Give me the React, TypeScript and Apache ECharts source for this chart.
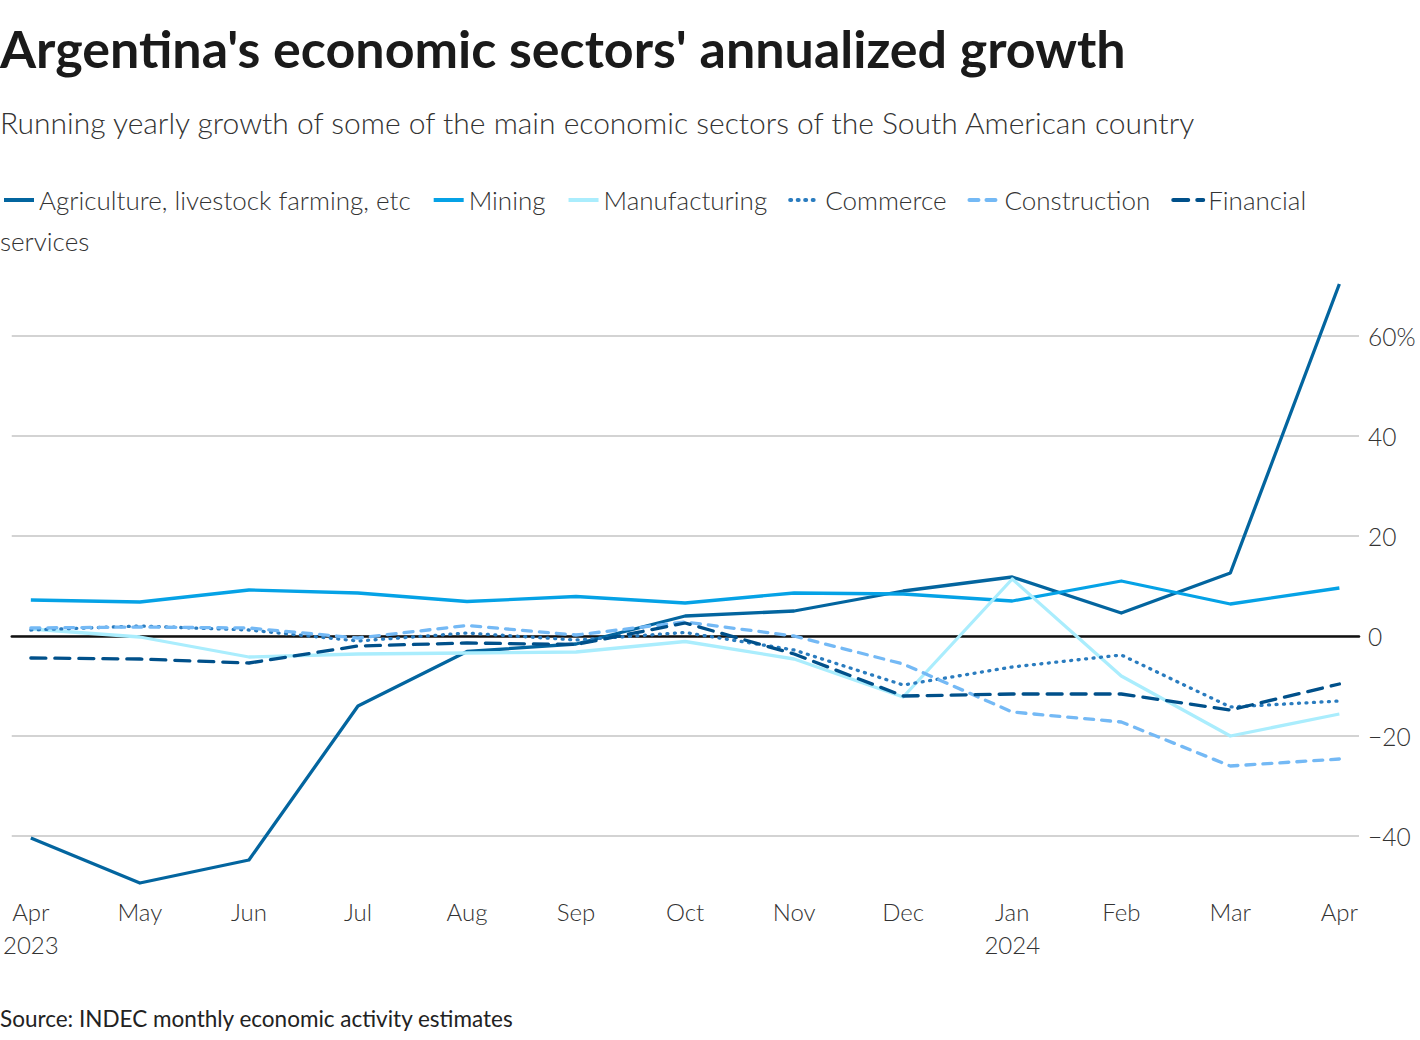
import React, { useEffect, useRef } from "react";
import * as echarts from "echarts";

const months = ["Apr\n2023", "May", "Jun", "Jul", "Aug", "Sep", "Oct", "Nov", "Dec", "Jan\n2024", "Feb", "Mar", "Apr"];
const yTicks = [-40, -20, 0, 20, 40, 60];

const agriculture = [-40.4, -49.4, -44.8, -14, -3.1, -1.6, 4.0, 5.0, 9.0, 11.8, 4.6, 12.6, 70.4];
const mining = [7.2, 6.8, 9.2, 8.6, 6.9, 7.9, 6.6, 8.6, 8.4, 7.0, 11.0, 6.4, 9.6];
const manufacturing = [1.4, -0.2, -4.2, -3.6, -3.4, -3.2, -1.1, -4.6, -12.2, 11.4, -8.0, -20.0, -15.6];
const commerce = [1.2, 2.0, 1.2, -1.0, 0.6, -0.8, 0.7, -2.8, -9.8, -6.2, -3.8, -14.2, -13.0];
const construction = [1.6, 1.8, 1.6, -0.4, 2.1, 0.2, 2.8, 0.0, -5.6, -15.2, -17.2, -26.0, -24.6];
const financial = [-4.4, -4.6, -5.4, -2.0, -1.4, -1.7, 2.6, -3.6, -12.0, -11.6, -11.6, -14.8, -9.6];

const FONT = "Lato, 'Noto Sans', sans-serif";

export default function App() {
  const ref = useRef<HTMLDivElement>(null);
  useEffect(() => {
    if (!ref.current) return;
    const chart = echarts.init(ref.current, undefined, { renderer: "svg" });
    const toPts = (arr: number[]) => arr.map((v, i) => [i, v]);
    const mk = (name: string, data: number[], color: string, type: any, cap: any = "butt") => ({
      name,
      type: "line",
      data: toPts(data),
      symbol: "none",
      clip: false,
      lineStyle: { color, width: 3.3, type, cap, join: "round" },
      itemStyle: { color },
      emphasis: { disabled: true },
    });
    chart.setOption({
      animation: false,
      textStyle: { fontFamily: FONT },
      title: [
        {
          text: "Argentina's economic sectors' annualized growth",
          left: 0,
          top: 18,
          padding: 0,
          textStyle: { fontFamily: FONT, fontSize: 52, fontWeight: "bold", color: "#1a1a1a", lineHeight: 60 },
        },
        {
          text: "Running yearly growth of some of the main economic sectors of the South American country",
          left: 0,
          top: 104,
          padding: 0,
          textStyle: { fontFamily: FONT, fontSize: 30, fontWeight: 300, color: "#333", lineHeight: 36 },
        },
        {
          text: "Source: INDEC monthly economic activity estimates",
          left: 0,
          top: 1004,
          padding: 0,
          textStyle: { fontFamily: FONT, fontSize: 22.5, fontWeight: "normal", color: "#222", lineHeight: 28 },
        },
      ],
      legend: {
        left: 2,
        top: 187,
        padding: 0,
        itemWidth: 30,
        itemHeight: 14,
        itemGap: 21,
        itemStyle: { opacity: 0 },
        lineStyle: { width: 4 },
        textStyle: { fontFamily: FONT, fontSize: 26, fontWeight: 300, color: "#333" },
        formatter: (n: string) => (n === "Financial services" ? "Financial" : n),
      },
      graphic: [
        {
          type: "text",
          left: 0,
          top: 228,
          style: { text: "services", font: `300 26px ${FONT}`, fill: "#333" },
        },
      ],
      grid: { left: 7, right: 61, top: 336, bottom: 1040 - 836 },
      xAxis: {
        type: "value",
        min: -0.175,
        max: 12.18,
        axisLine: { show: true, onZero: true, lineStyle: { color: "#111", width: 2.5 } },
        axisTick: { show: false },
        splitLine: { show: false },
        axisLabel: {
          customValues: months.map((_, i) => i),
          formatter: (v: number) => months[Math.round(v)],
          margin: 59,
          fontFamily: FONT,
          fontSize: 24,
          fontWeight: 300,
          color: "#333",
          lineHeight: 33,
          verticalAlign: "top",
        },
      },
      yAxis: {
        type: "value",
        position: "right",
        min: -40,
        max: 60,
        interval: 20,
        axisLine: { show: false },
        axisTick: { show: false },
        splitLine: { lineStyle: { color: "#c4c4c4", width: 1.5 } },
        axisLabel: {
          customValues: yTicks,
          margin: 9,
          fontFamily: FONT,
          fontSize: 24.5,
          fontWeight: 300,
          color: "#333",
          formatter: (v: number) => (v === 60 ? "60%" : v < 0 ? "\u2212" + Math.abs(v) : String(v)),
        },
      },
      series: [
        mk("Agriculture, livestock farming, etc", agriculture, "#03659f", "solid"),
        mk("Mining", mining, "#05a2e6", "solid"),
        mk("Manufacturing", manufacturing, "#aaedfd", "solid"),
        mk("Commerce", commerce, "#2a7cbf", [1, 6.5], "round"),
        mk("Construction", construction, "#74b9f5", [9, 8], "round"),
        mk("Financial services", financial, "#00508a", [15, 9], "round"),
      ],
    });
    return () => chart.dispose();
  }, []);
  return <div ref={ref} style={{ position: "absolute", left: 0, top: 0, width: 1420, height: 1040 }} />;
}
